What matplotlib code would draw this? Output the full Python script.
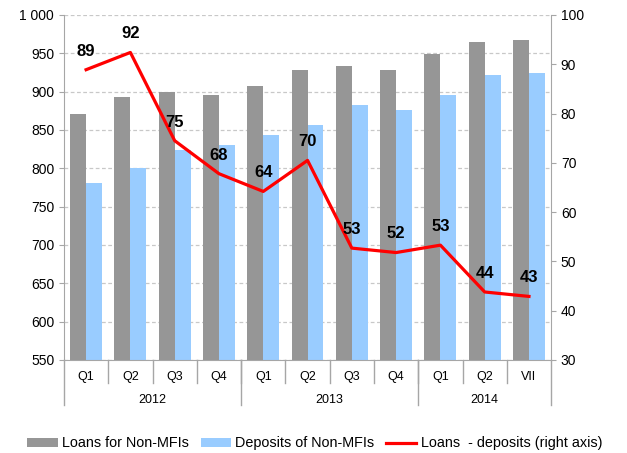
import numpy as np
import matplotlib.pyplot as plt

plt.rcParams['font.family'] = ['Liberation Sans', 'DejaVu Sans']

# Data
quarters = ['Q1', 'Q2', 'Q3', 'Q4', 'Q1', 'Q2', 'Q3', 'Q4', 'Q1', 'Q2', 'VII']
years = ['2012', '2013', '2014']
year_spans = [(0, 3), (4, 7), (8, 10)]
loans = [871, 893, 899, 896, 908, 928, 934, 928, 949, 965, 967]
deposits = [781, 800, 824, 830, 843, 857, 882, 876, 896, 922, 924]
diff = [88.9, 92.4, 74.5, 67.8, 64.2, 70.5, 52.7, 51.8, 53.3, 43.8, 42.9]
diff_labels = ['89', '92', '75', '68', '64', '70', '53', '52', '53', '44', '43']
left_ticks = [550, 600, 650, 700, 750, 800, 850, 900, 950, 1000]
left_tick_labels = ['550', '600', '650', '700', '750', '800', '850', '900', '950', '1 000']
right_ticks = [30, 40, 50, 60, 70, 80, 90, 100]

gray = '#969696'
blue = '#99ccff'
axis_col = '#a6a6a6'

fig = plt.figure(figsize=(6.27, 4.53), dpi=100)
ax = fig.add_axes([0.102, 0.2053, 0.777, 0.7616])
x = np.arange(len(quarters))
w = 0.36

b1 = ax.bar(x - w / 2, loans, w, color=gray, label='Loans for Non-MFIs', zorder=2)
b2 = ax.bar(x + w / 2, deposits, w, color=blue, label='Deposits of Non-MFIs', zorder=2)
ax.set_xlim(-0.5, len(quarters) - 0.5)
ax.set_ylim(550, 1000)
ax.set_yticks(left_ticks)
ax.set_yticklabels(left_tick_labels, fontsize=10)
ax.set_axisbelow(True)
ax.yaxis.grid(True, linestyle=(0, (3, 2)), color='#c8c8c8', linewidth=0.9)
ax.tick_params(axis='y', direction='out', length=3.5, color=axis_col, pad=3.5)
ax.set_xticks([])
for s in ['top', 'right']:
    ax.spines[s].set_visible(False)
for s in ['left', 'bottom']:
    ax.spines[s].set_color(axis_col)

ax2 = ax.twinx()
ln, = ax2.plot(x, diff, color='#ff0000', linewidth=2.3, label='Loans  - deposits (right axis)', zorder=3)
ax2.set_ylim(30, 100)
ax2.set_yticks(right_ticks)
ax2.tick_params(axis='y', direction='out', length=3.5, color=axis_col, labelsize=10, pad=3.5)
for s in ['top', 'left', 'bottom']:
    ax2.spines[s].set_visible(False)
ax2.spines['right'].set_color(axis_col)
for xi, v, t in zip(x, diff, diff_labels):
    ax2.annotate(t, (xi, v), xytext=(0, 8), textcoords='offset points',
                 ha='center', va='bottom', fontsize=12, fontweight='bold')

# category axis with grouped years
tr = ax.get_xaxis_transform()
for xi, q in zip(x, quarters):
    ax.text(xi, -0.05, q, transform=tr, ha='center', va='center', fontsize=9)
for i in range(1, len(quarters)):
    ax.plot([i - 0.5, i - 0.5], [0, -0.067], transform=tr, color=axis_col, lw=1, clip_on=False)
bounds = [-0.5, 3.5, 7.5, 10.5]
for b in bounds:
    ax.plot([b, b], [0, -0.13], transform=tr, color=axis_col, lw=1, clip_on=False)
for (a, bb), yr in zip(year_spans, years):
    ax.text((a + bb) / 2, -0.115, yr, transform=tr, ha='center', va='center', fontsize=9)

fig.legend([b1, b2, ln], [b1.get_label(), b2.get_label(), ln.get_label()],
           loc='center', bbox_to_anchor=(0.502, 0.021), ncol=3, frameon=False,
           fontsize=10.4, handlelength=2.1, handleheight=0.55, handletextpad=0.3,
           columnspacing=0.8)

fig.savefig('out.png', dpi=100)
